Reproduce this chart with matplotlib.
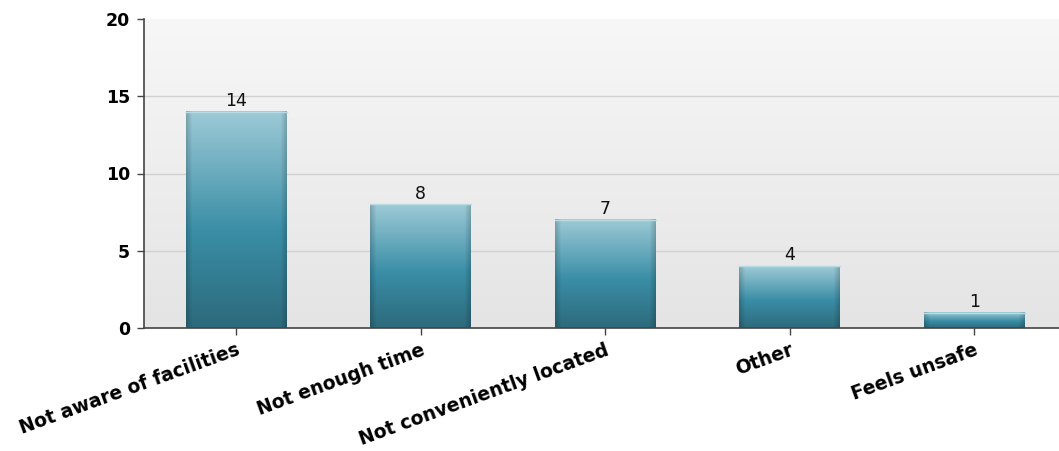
import numpy as np
import matplotlib.pyplot as plt
from matplotlib.colors import LinearSegmentedColormap
from matplotlib.transforms import ScaledTranslation

categories = ["Not aware of facilities", "Not enough time", "Not conveniently located",
              "Other", "Feels unsafe"]
counts = [14, 8, 7, 4, 1]
y_ticks = [0, 5, 10, 15, 20]

W, H, DPI = 1059, 451, 100
fig = plt.figure(figsize=(W / DPI, H / DPI), dpi=DPI)
ax = fig.add_axes([144 / W, 1 - 328 / H, (W - 144) / W, (328 - 19) / H])

step = 184.5
ax.set_xlim(-0.5, -0.5 + (W - 144) / step)
ax.set_ylim(0, 20)

# plot-area background: soft vertical gradient
bg = np.linspace(0, 1, 256).reshape(-1, 1)
bg_cmap = LinearSegmentedColormap.from_list("bg", ["#e4e4e4", "#f7f7f7"])
ax.imshow(bg, cmap=bg_cmap, origin="lower", aspect="auto",
          extent=[ax.get_xlim()[0], ax.get_xlim()[1], 0, 20], zorder=0)

for v in y_ticks[1:-1]:
    ax.axhline(v, color="#d0d0d0", lw=1, zorder=1)

# bar fill: vertical colour ramp with slightly darker side edges
bar_cmap = LinearSegmentedColormap.from_list(
    "bar", [(0.0, "#2d6a7c"), (0.45, "#3a8ea6"), (1.0, "#9dcad6")])
n = 200
vert = np.linspace(0, 1, n).reshape(-1, 1)
cols = np.linspace(-1, 1, 100)
shade = 1 - 0.18 * np.clip((np.abs(cols) - 0.88) / 0.12, 0, 1)
bw = 0.547
for i, c in enumerate(counts):
    rgb = bar_cmap(np.repeat(vert, 100, axis=1))[..., :3]
    rgb = rgb * shade[None, :, None]
    ax.imshow(rgb, origin="lower", aspect="auto",
              extent=[i - bw / 2, i + bw / 2, 0, c], zorder=2)
    ax.plot([i - bw / 2, i + bw / 2], [c, c], color="#b8dce5", lw=1, zorder=3)
    ax.text(i, c + 0.12, str(c), ha="center", va="bottom", fontsize=12.5,
            family="DejaVu Sans", color="#111111", zorder=4)

ax.set_yticks(y_ticks)
ax.set_yticklabels([str(v) for v in y_ticks], fontsize=12.5, fontweight="bold",
                   family="DejaVu Sans")
ax.set_xticks(range(len(categories)))
ax.set_xticklabels(categories, rotation=20, ha="right", rotation_mode="anchor",
                   fontsize=13.5, fontweight="bold", family="DejaVu Sans")
for lbl in ax.get_xticklabels():
    lbl.set_transform(lbl.get_transform() + ScaledTranslation(0.12, 0, fig.dpi_scale_trans))
ax.tick_params(axis="y", length=5, width=1, color="#444444", pad=5)
ax.tick_params(axis="x", length=5, width=1, color="#444444", pad=4)

for s in ["top", "right"]:
    ax.spines[s].set_visible(False)
for s in ["left", "bottom"]:
    ax.spines[s].set_color("#444444")
    ax.spines[s].set_linewidth(1.2)

fig.savefig("out.png", dpi=DPI)
